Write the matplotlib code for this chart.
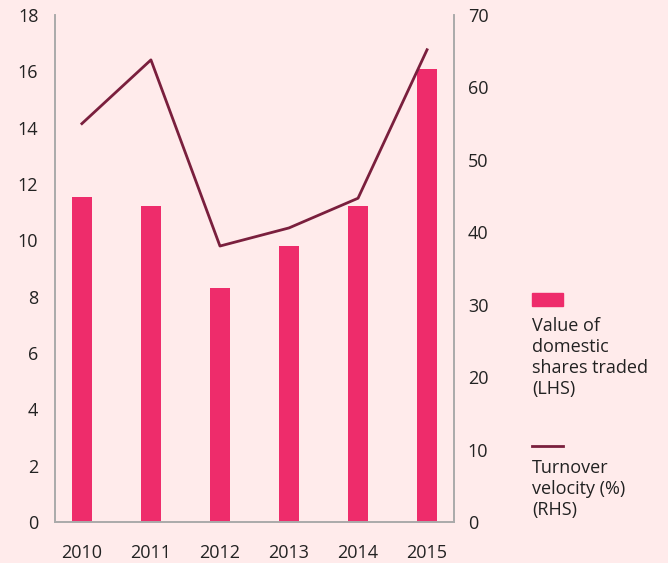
import matplotlib.pyplot as plt
from matplotlib.patches import Rectangle
from matplotlib.lines import Line2D

# data
years = ['2010', '2011', '2012', '2013', '2014', '2015']
shares_traded = [11.55, 11.22, 8.31, 9.8, 11.22, 16.08]   # LHS
turnover_velocity = [55.0, 63.8, 38.1, 40.6, 44.7, 65.2]  # RHS (%)

bg = '#FFEBEB'
bar_color = '#EE2C6B'
line_color = '#7A1F3D'
spine_color = '#AAAAAA'
plt.rcParams['font.family'] = ['Open Sans', 'DejaVu Sans']
fs = 13

fig = plt.figure(figsize=(6.68, 5.63), dpi=100, facecolor=bg)
ax = fig.add_axes([0.0823, 0.0728, 0.5973, 0.9006])
ax.set_facecolor(bg)
x = list(range(len(years)))

ax.bar(x, shares_traded, width=0.3, color=bar_color, zorder=2)
ax.set_ylim(0, 18)
ax.set_yticks(range(0, 19, 2))
ax.set_xlim(-0.39, 5.39)
ax.set_xticks(x)
ax.set_xticklabels(years)

ax2 = ax.twinx()
ax2.plot(x, turnover_velocity, color=line_color, linewidth=2, zorder=3)
ax2.set_ylim(0, 70)
ax2.set_yticks(range(0, 71, 10))

for a in (ax, ax2):
    a.spines['top'].set_visible(False)
    for s in ('left', 'right', 'bottom'):
        a.spines[s].set_color(spine_color)
        a.spines[s].set_linewidth(1.2)
    a.tick_params(length=0, labelsize=fs, colors='#222222')
ax.tick_params(axis='y', pad=12)
ax.tick_params(axis='x', pad=16)
ax2.tick_params(axis='y', pad=10)

# legend, drawn by hand (label below the key)
fig.add_artist(Rectangle((532 / 668, 1 - 306 / 563), 31 / 668, 13 / 563,
                         transform=fig.transFigure, color=bar_color))
fig.text(532 / 668, 1 - 317 / 563, 'Value of\ndomestic\nshares traded\n(LHS)',
         va='top', ha='left', fontsize=fs, color='#222222', linespacing=1.22)
fig.add_artist(Line2D([532 / 668, 563 / 668], [1 - 446 / 563, 1 - 446 / 563],
                      transform=fig.transFigure, color=line_color, linewidth=2))
fig.text(532 / 668, 1 - 459 / 563, 'Turnover\nvelocity (%)\n(RHS)',
         va='top', ha='left', fontsize=fs, color='#222222', linespacing=1.22)

fig.savefig('out.png', dpi=100, facecolor=bg)
